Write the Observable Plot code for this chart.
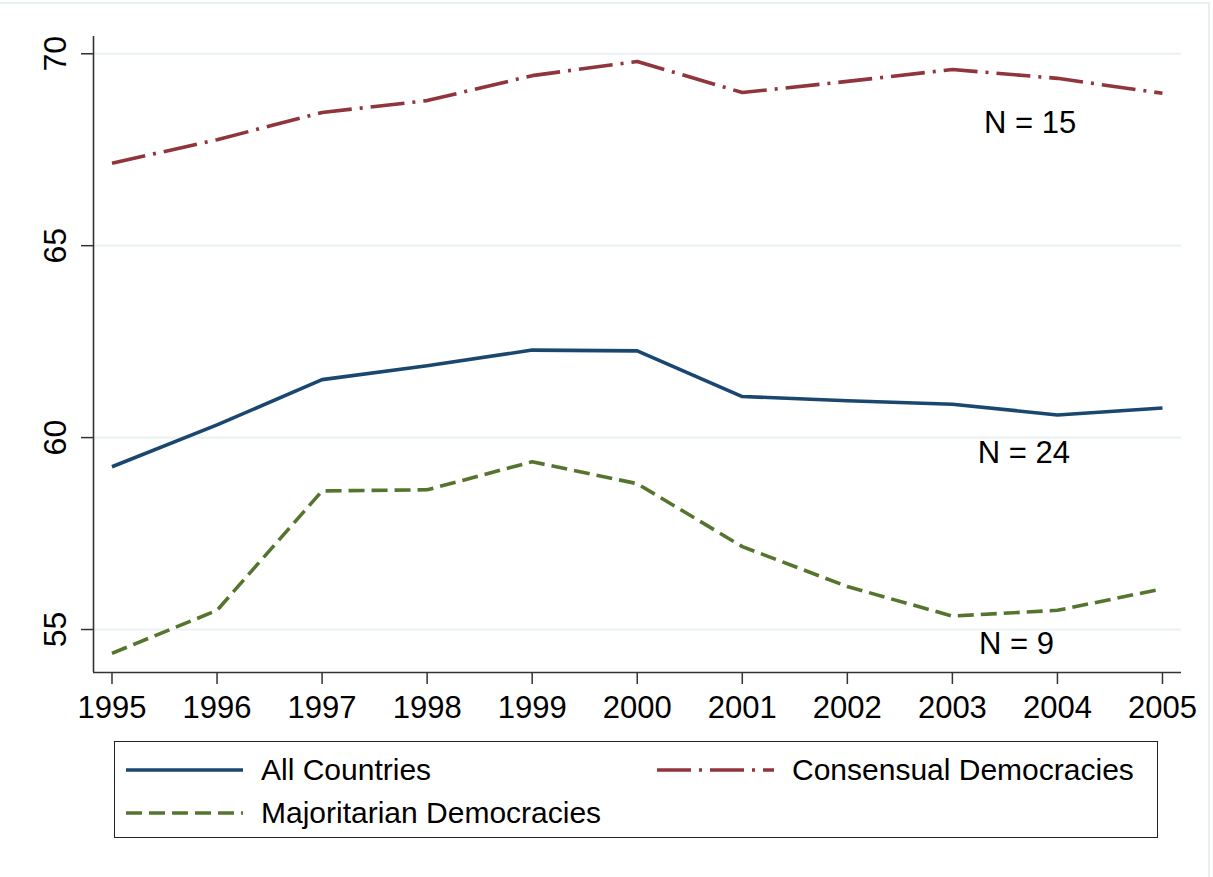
<!DOCTYPE html>
<html>
<head>
<meta charset="utf-8">
<script src="https://cdn.jsdelivr.net/npm/d3@7"></script>
<script src="https://cdn.jsdelivr.net/npm/@observablehq/plot@0.6"></script>
<style>
  html, body { margin: 0; padding: 0; background: #fff; }
  body { width: 1213px; height: 877px; position: relative; overflow: hidden;
         font-family: "Liberation Sans", Arial, sans-serif; }
  #frame { position: absolute; left: -4px; top: 2px; width: 1214px; height: 900px;
           border-top: 2px solid #e9f0f1; border-right: 2px solid #e9f0f1; box-sizing: border-box; }
  #chart { position: absolute; left: 0; top: 0; }
  #legend { position: absolute; left: 114px; top: 741px; width: 1044px; height: 97px;
            border: 1.5px solid #222; box-sizing: border-box; background: #fff; }
  .item { position: absolute; display: flex; align-items: center; font-size: 30px; color: #000; white-space: nowrap; }
  .item svg { margin-right: 18px; }
</style>
</head>
<body>
<div id="frame"></div>
<div id="chart"></div>
<div id="legend"></div>
<script>
const years = [1995, 1996, 1997, 1998, 1999, 2000, 2001, 2002, 2003, 2004, 2005];
const allCountries = [59.24, 60.33, 61.51, 61.87, 62.28, 62.26, 61.07, 60.96, 60.87, 60.59, 60.77];
const consensual   = [67.15, 67.76, 68.47, 68.78, 69.43, 69.80, 68.99, 69.28, 69.59, 69.36, 68.97];
const majoritarian = [54.38, 55.50, 58.61, 58.64, 59.37, 58.80, 57.16, 56.12, 55.35, 55.50, 56.06];
const seriesNames  = ["All Countries", "Consensual Democracies", "Majoritarian Democracies"];
const yTicks = [55, 60, 65, 70];
const nLabels = ["N = 15", "N = 24", "N = 9"];
const nLabelX = [2003.74, 2003.68, 2003.61];
const nLabelY = [68.19, 59.59, 54.63];

const colors = {"All Countries": "#1a476f", "Consensual Democracies": "#90353b", "Majoritarian Democracies": "#55752f"};
const dashes = {"All Countries": null, "Consensual Democracies": "34,8,3,8", "Majoritarian Democracies": "16,7"};

const seriesValues = [allCountries, consensual, majoritarian];
const font = "'Liberation Sans', Arial, sans-serif";
const xDomain = [1994.824, 2005.181];
const yDomain = [53.88, 70.45];

const lineMarks = seriesNames.map((name, i) =>
  Plot.line(years.map((yr, j) => ({year: yr, value: seriesValues[i][j]})), {
    x: "year", y: "value", stroke: colors[name], strokeWidth: 3.6,
    strokeDasharray: dashes[name], strokeLinejoin: "round", strokeLinecap: "butt"
  })
);

const labelData = nLabels.map((t, i) => ({t, x: nLabelX[i], y: nLabelY[i]}));

const chart = Plot.plot({
  width: 1213,
  height: 730,
  marginLeft: 93,
  marginRight: 32,
  marginTop: 36,
  marginBottom: 58,
  style: {fontFamily: font, fontSize: "30px", background: "transparent", color: "#000"},
  x: {type: "linear", domain: xDomain},
  y: {type: "linear", domain: yDomain},
  marks: [
    Plot.gridY(yTicks, {stroke: "#eaf2f3", strokeOpacity: 1, strokeWidth: 2.2}),
    Plot.axisY(yTicks, {tickSize: 12, tickFormat: () => "", stroke: "#333", strokeWidth: 1.5, label: null}),
    Plot.text(yTicks, {y: d => d, text: d => String(d), frameAnchor: "left", dx: -38, rotate: -90,
      textAnchor: "middle", lineAnchor: "middle", fontSize: 32, fill: "#000"}),
    Plot.axisX(years, {tickSize: 12, tickPadding: 11, tickFormat: d => String(d), fontSize: 31,
      stroke: "#333", strokeWidth: 1.5, label: null, fill: "#000"}),
    Plot.ruleX([xDomain[0]], {stroke: "#333", strokeWidth: 1.6}),
    Plot.ruleY([yDomain[0]], {stroke: "#333", strokeWidth: 1.6}),
    ...lineMarks,
    Plot.text(labelData, {x: "x", y: "y", text: "t", fontSize: 31, fill: "#000", textAnchor: "middle", lineAnchor: "middle"})
  ]
});
document.getElementById("chart").appendChild(chart);

// Legend
const legend = document.getElementById("legend");
const legendPos = [
  {left: 11, top: 8},
  {left: 542, top: 8},
  {left: 11, top: 51}
];
seriesNames.forEach((name, i) => {
  const div = document.createElement("div");
  div.className = "item";
  div.style.left = legendPos[i].left + "px";
  div.style.top = legendPos[i].top + "px";
  div.style.height = "40px";
  const ns = "http://www.w3.org/2000/svg";
  const svg = document.createElementNS(ns, "svg");
  svg.setAttribute("width", 117);
  svg.setAttribute("height", 10);
  const ln = document.createElementNS(ns, "line");
  ln.setAttribute("x1", 0); ln.setAttribute("x2", 117);
  ln.setAttribute("y1", 5); ln.setAttribute("y2", 5);
  ln.setAttribute("stroke", colors[name]);
  ln.setAttribute("stroke-width", 3.6);
  if (dashes[name]) ln.setAttribute("stroke-dasharray", dashes[name]);
  svg.appendChild(ln);
  div.appendChild(svg);
  const span = document.createElement("span");
  span.textContent = name;
  div.appendChild(span);
  legend.appendChild(div);
});
</script>
</body>
</html>
